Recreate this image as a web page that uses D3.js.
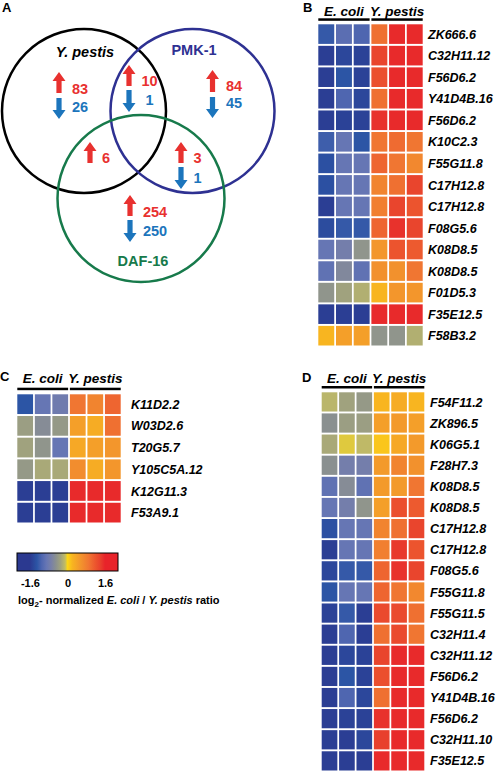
<!DOCTYPE html>
<html><head><meta charset="utf-8">
<script src="https://cdn.jsdelivr.net/npm/d3@7"></script>
<style>body{margin:0;background:#fff}svg{display:block}text{font-family:"Liberation Sans",Arial,sans-serif;font-weight:bold}</style>
</head><body><svg id="c" width="500" height="774"></svg>
<script>
// ---------- DATA ----------
const vennSets = ["Y. pestis", "PMK-1", "DAF-16"];
const vennRegions = ["Y. pestis only", "Y. pestis & PMK-1", "PMK-1 only", "Y. pestis & DAF-16", "PMK-1 & DAF-16", "DAF-16 only"];
const upCounts = [83, 10, 84, 6, 3, 254];
const downCounts = [26, 1, 45, null, 1, 250];

const conditions = ["E. coli", "E. coli", "E. coli", "Y. pestis", "Y. pestis", "Y. pestis"];
const groupLabels = ["E. coli", "Y. pestis"];

const genesB = ["ZK666.6","C32H11.12","F56D6.2","Y41D4B.16","F56D6.2","K10C2.3","F55G11.8","C17H12.8","C17H12.8","F08G5.6","K08D8.5","K08D8.5","F01D5.3","F35E12.5","F58B3.2"];
const valuesB = [
  [-1.25,-1.0,-1.1, 0.95,1.55,1.55],
  [-1.55,-1.45,-1.5, 1.35,1.55,1.55],
  [-1.55,-1.3,-1.5, 1.25,1.55,1.55],
  [-1.55,-1.1,-1.45, 0.95,1.55,1.55],
  [-1.55,-1.5,-1.5, 1.5,1.55,1.55],
  [-1.2,-0.9,-1.3, 0.9,1.0,0.9],
  [-1.35,-0.9,-0.9, 1.05,0.9,0.7],
  [-1.35,-0.9,-0.9, 0.75,0.95,1.35],
  [-1.55,-0.9,-0.9, 0.8,1.35,1.2],
  [-1.4,-1.25,-1.25, 1.05,1.5,1.35],
  [-0.9,-0.75,-0.45, 0.55,1.2,1.15],
  [-0.95,-0.6,-0.95, 0.6,0.6,0.9],
  [-0.45,-0.3,-0.2, 0.2,0.55,0.55],
  [-1.55,-1.55,-1.55, 1.55,1.55,1.55],
  [0.2,0.45,0.45, -0.45,-0.45,-0.2]
];

const genesC = ["K11D2.2","W03D2.6","T20G5.7","Y105C5A.12","K12G11.3","F53A9.1"];
const valuesC = [
  [-1.3,-0.9,-0.8, 0.9,0.75,1.05],
  [-0.35,-0.55,-0.4, 0.45,0.3,0.95],
  [-0.3,-0.45,-0.9, 0.35,0.45,0.55],
  [-0.4,-0.25,-0.25, 0.65,0.3,0.55],
  [-1.55,-1.55,-1.55, 1.55,1.55,1.55],
  [-1.55,-1.55,-1.55, 1.55,1.55,1.55]
];

const genesD = ["F54F11.2","ZK896.5","K06G5.1","F28H7.3","K08D8.5","K08D8.5","C17H12.8","C17H12.8","F08G5.6","F55G11.8","F55G11.5","C32H11.4","C32H11.12","F56D6.2","Y41D4B.16","F56D6.2","C32H11.10","F35E12.5"];
const valuesD = [
  [-0.15,-0.3,-0.4, 0.2,0.3,0.2],
  [-0.5,-0.35,-0.35, 0.45,0.5,0.45],
  [-0.25,-0.05,-0.12, 0.1,0.35,0.5],
  [-0.5,-0.75,-0.75, 0.5,0.75,0.6],
  [-0.95,-0.55,-0.95, 0.5,0.5,0.9],
  [-0.9,-0.75,-0.45, 0.45,1.25,1.15],
  [-1.35,-0.9,-0.9, 0.75,0.95,1.35],
  [-1.55,-0.9,-0.9, 0.8,1.45,1.2],
  [-1.45,-1.25,-1.25, 1.05,1.5,1.35],
  [-1.3,-0.9,-0.9, 1.05,0.9,0.7],
  [-1.5,-1.25,-1.55, 1.3,1.3,0.95],
  [-1.55,-1.1,-1.55, 0.95,1.3,0.9],
  [-1.55,-1.45,-1.5, 1.35,1.55,1.55],
  [-1.55,-1.3,-1.5, 1.25,1.55,1.55],
  [-1.55,-1.1,-1.45, 0.95,1.55,1.55],
  [-1.55,-1.5,-1.5, 1.5,1.55,1.55],
  [-1.55,-1.55,-1.45, 1.4,1.55,1.55],
  [-1.55,-1.55,-1.55, 1.55,1.55,1.55]
];

const legendTicks = [-1.6, 0, 1.6];
const legendTickLabels = ["-1.6", "0", "1.6"];
const colorStops = [-1.6,-1.3,-1.1,-0.9,-0.7,-0.5,-0.3,-0.1,0,0.2,0.5,0.9,1.2,1.4,1.6];
const colorRange = ["#2b3990","#2c55a5","#4f66b0","#6676b4","#7880a8","#8a9090","#a0a27e","#c2bc64","#fcd617","#f8b520","#f39a2b","#f07632","#ec542e","#e8402d","#e8232a"];

// ---------- DRAW ----------
const svg = d3.select("#c");
const color = d3.scaleLinear().domain(colorStops).range(colorRange).clamp(true);
const RED = "#e8312f", BLUE = "#1c75bc";

// Panel labels
[["A",2,12],["B",303,12],["C",0,381],["D",302,382]].forEach(([t,x,y]) =>
  svg.append("text").attr("x",x).attr("y",y).attr("font-size",13).text(t));

// ----- Venn -----
const circles = [
  {cx:84, cy:111, r:82, stroke:"#000000"},
  {cx:192.5, cy:111, r:82, stroke:"#2e3192"},
  {cx:141, cy:198.5, r:83.5, stroke:"#177a4b"}
];
svg.append("g").selectAll("circle").data(circles).join("circle")
  .attr("cx",d=>d.cx).attr("cy",d=>d.cy).attr("r",d=>d.r)
  .attr("fill","none").attr("stroke",d=>d.stroke).attr("stroke-width",2.5);

const setLabelPos = [{x:85,y:57,c:"#000",i:true},{x:194,y:55,c:"#2e3192",i:false},{x:143,y:266,c:"#177a4b",i:false}];
vennSets.forEach((s,i)=>{
  svg.append("text").attr("x",setLabelPos[i].x).attr("y",setLabelPos[i].y)
    .attr("text-anchor","middle").attr("font-size",14.5).attr("fill",setLabelPos[i].c)
    .attr("font-style",setLabelPos[i].i?"italic":"normal").text(s);
});

const regionLayout = [
  {ax:59, up:[72,93], dn:[98,119], tx:80, ub:94, db:112},
  {ax:129, up:[65,86], dn:[90,112], tx:149.5, ub:86, db:105},
  {ax:212.5, up:[70,92], dn:[97,118], tx:234, ub:91, db:108},
  {ax:90, up:[142,163], dn:null, tx:106, ub:163, db:null},
  {ax:181, up:[142,163], dn:[167,189], tx:197.5, ub:163, db:183},
  {ax:130, up:[195,216], dn:[220,242], tx:155, ub:217, db:236}
];
function arrowPath(x, y0, y1, up){
  const hw=6.5, sw=2.6, hh=9;
  if(up){
    return `M${x},${y0} L${x+hw},${y0+hh} L${x+sw},${y0+hh} L${x+sw},${y1} L${x-sw},${y1} L${x-sw},${y0+hh} L${x-hw},${y0+hh} Z`;
  } else {
    return `M${x},${y1} L${x+hw},${y1-hh} L${x+sw},${y1-hh} L${x+sw},${y0} L${x-sw},${y0} L${x-sw},${y1-hh} L${x-hw},${y1-hh} Z`;
  }
}
const vg = svg.append("g");
vennRegions.forEach((r,i)=>{
  const L = regionLayout[i];
  vg.append("path").attr("d",arrowPath(L.ax,L.up[0],L.up[1],true)).attr("fill",RED);
  vg.append("text").attr("x",L.tx).attr("y",L.ub).attr("text-anchor","middle").attr("font-size",14.5).attr("fill",RED).text(upCounts[i]);
  if(downCounts[i]!==null){
    vg.append("path").attr("d",arrowPath(L.ax,L.dn[0],L.dn[1],false)).attr("fill",BLUE);
    vg.append("text").attr("x",L.tx).attr("y",L.db).attr("text-anchor","middle").attr("font-size",14.5).attr("fill",BLUE).text(downCounts[i]);
  }
});

// ----- Heatmaps -----
function heatmap(genes, values, o){
  const g = svg.append("g");
  const x = d3.scaleBand().domain(d3.range(conditions.length)).range([o.x0,o.x1]).paddingInner(0.1);
  const y = d3.scaleBand().domain(d3.range(genes.length)).range([o.y0,o.y1]).paddingInner(0.09);
  values.forEach((row,ri)=>{
    g.selectAll(null).data(row).join("rect")
      .attr("x",(d,ci)=>x(ci)).attr("y",y(ri))
      .attr("width",x.bandwidth()).attr("height",y.bandwidth())
      .attr("fill",d=>color(d));
  });
  g.selectAll("text.gene").data(genes).join("text").attr("class","gene")
    .attr("x",o.lx).attr("y",(d,i)=>y(i)+y.bandwidth()/2+4.6)
    .attr("font-size",12.5).attr("font-style","italic").text(d=>d);
  groupLabels.forEach((lab,gi)=>{
    const a = x(gi*3), b = x(gi*3+2)+x.bandwidth();
    g.append("rect").attr("x",a).attr("y",o.barY).attr("width",b-a).attr("height",2.5).attr("fill","#000");
    g.append("text").attr("x",(a+b)/2).attr("y",o.hb).attr("text-anchor","middle")
      .attr("font-size",13.5).attr("font-style","italic").text(lab);
  });
}
heatmap(genesB, valuesB, {x0:318.3,x1:422.7,y0:24.3,y1:345.5,lx:428,barY:18.3,hb:15.5});
heatmap(genesC, valuesC, {x0:17.3,x1:120.7,y0:394.3,y1:522.5,lx:131,barY:387.7,hb:383});
heatmap(genesD, valuesD, {x0:321.7,x1:424.3,y0:392.3,y1:770.5,lx:430,barY:386,hb:382.5});

// ----- Legend -----
const lx = d3.scaleLinear().domain([-2.15,2.15]).range([17,118]);
const defs = svg.append("defs");
const grad = defs.append("linearGradient").attr("id","lg");
grad.append("stop").attr("offset","0%").attr("stop-color",color(-1.6));
colorStops.forEach(s=>grad.append("stop").attr("offset",((lx(s)-17)/101*100)+"%").attr("stop-color",color(s)));
grad.append("stop").attr("offset","100%").attr("stop-color",color(1.6));
const lgY = 553, lgH = 18;
svg.append("rect").attr("x",17).attr("y",lgY).attr("width",101).attr("height",lgH)
  .attr("fill","url(#lg)").attr("stroke","#000").attr("stroke-width",1);
svg.append("g").attr("transform",`translate(0,${lgY+lgH})`)
  .call(d3.axisBottom(lx).tickValues(legendTicks).tickSize(0).tickPadding(8).tickFormat((d,i)=>legendTickLabels[i]))
  .call(g=>g.select(".domain").remove())
  .call(g=>g.selectAll("text").attr("font-size",11).attr("font-weight","bold").attr("fill","#000").attr("font-family","Liberation Sans, Arial, sans-serif"));
const cap = svg.append("text").attr("x",18).attr("y",604).attr("font-size",11);
cap.append("tspan").text("log");
cap.append("tspan").attr("dy",3).attr("font-size",8).text("2");
cap.append("tspan").attr("dy",-3).text("- normalized ");
cap.append("tspan").attr("font-style","italic").text("E. coli");
cap.append("tspan").text(" / ");
cap.append("tspan").attr("font-style","italic").text("Y. pestis");
cap.append("tspan").text(" ratio");
</script></body></html>
